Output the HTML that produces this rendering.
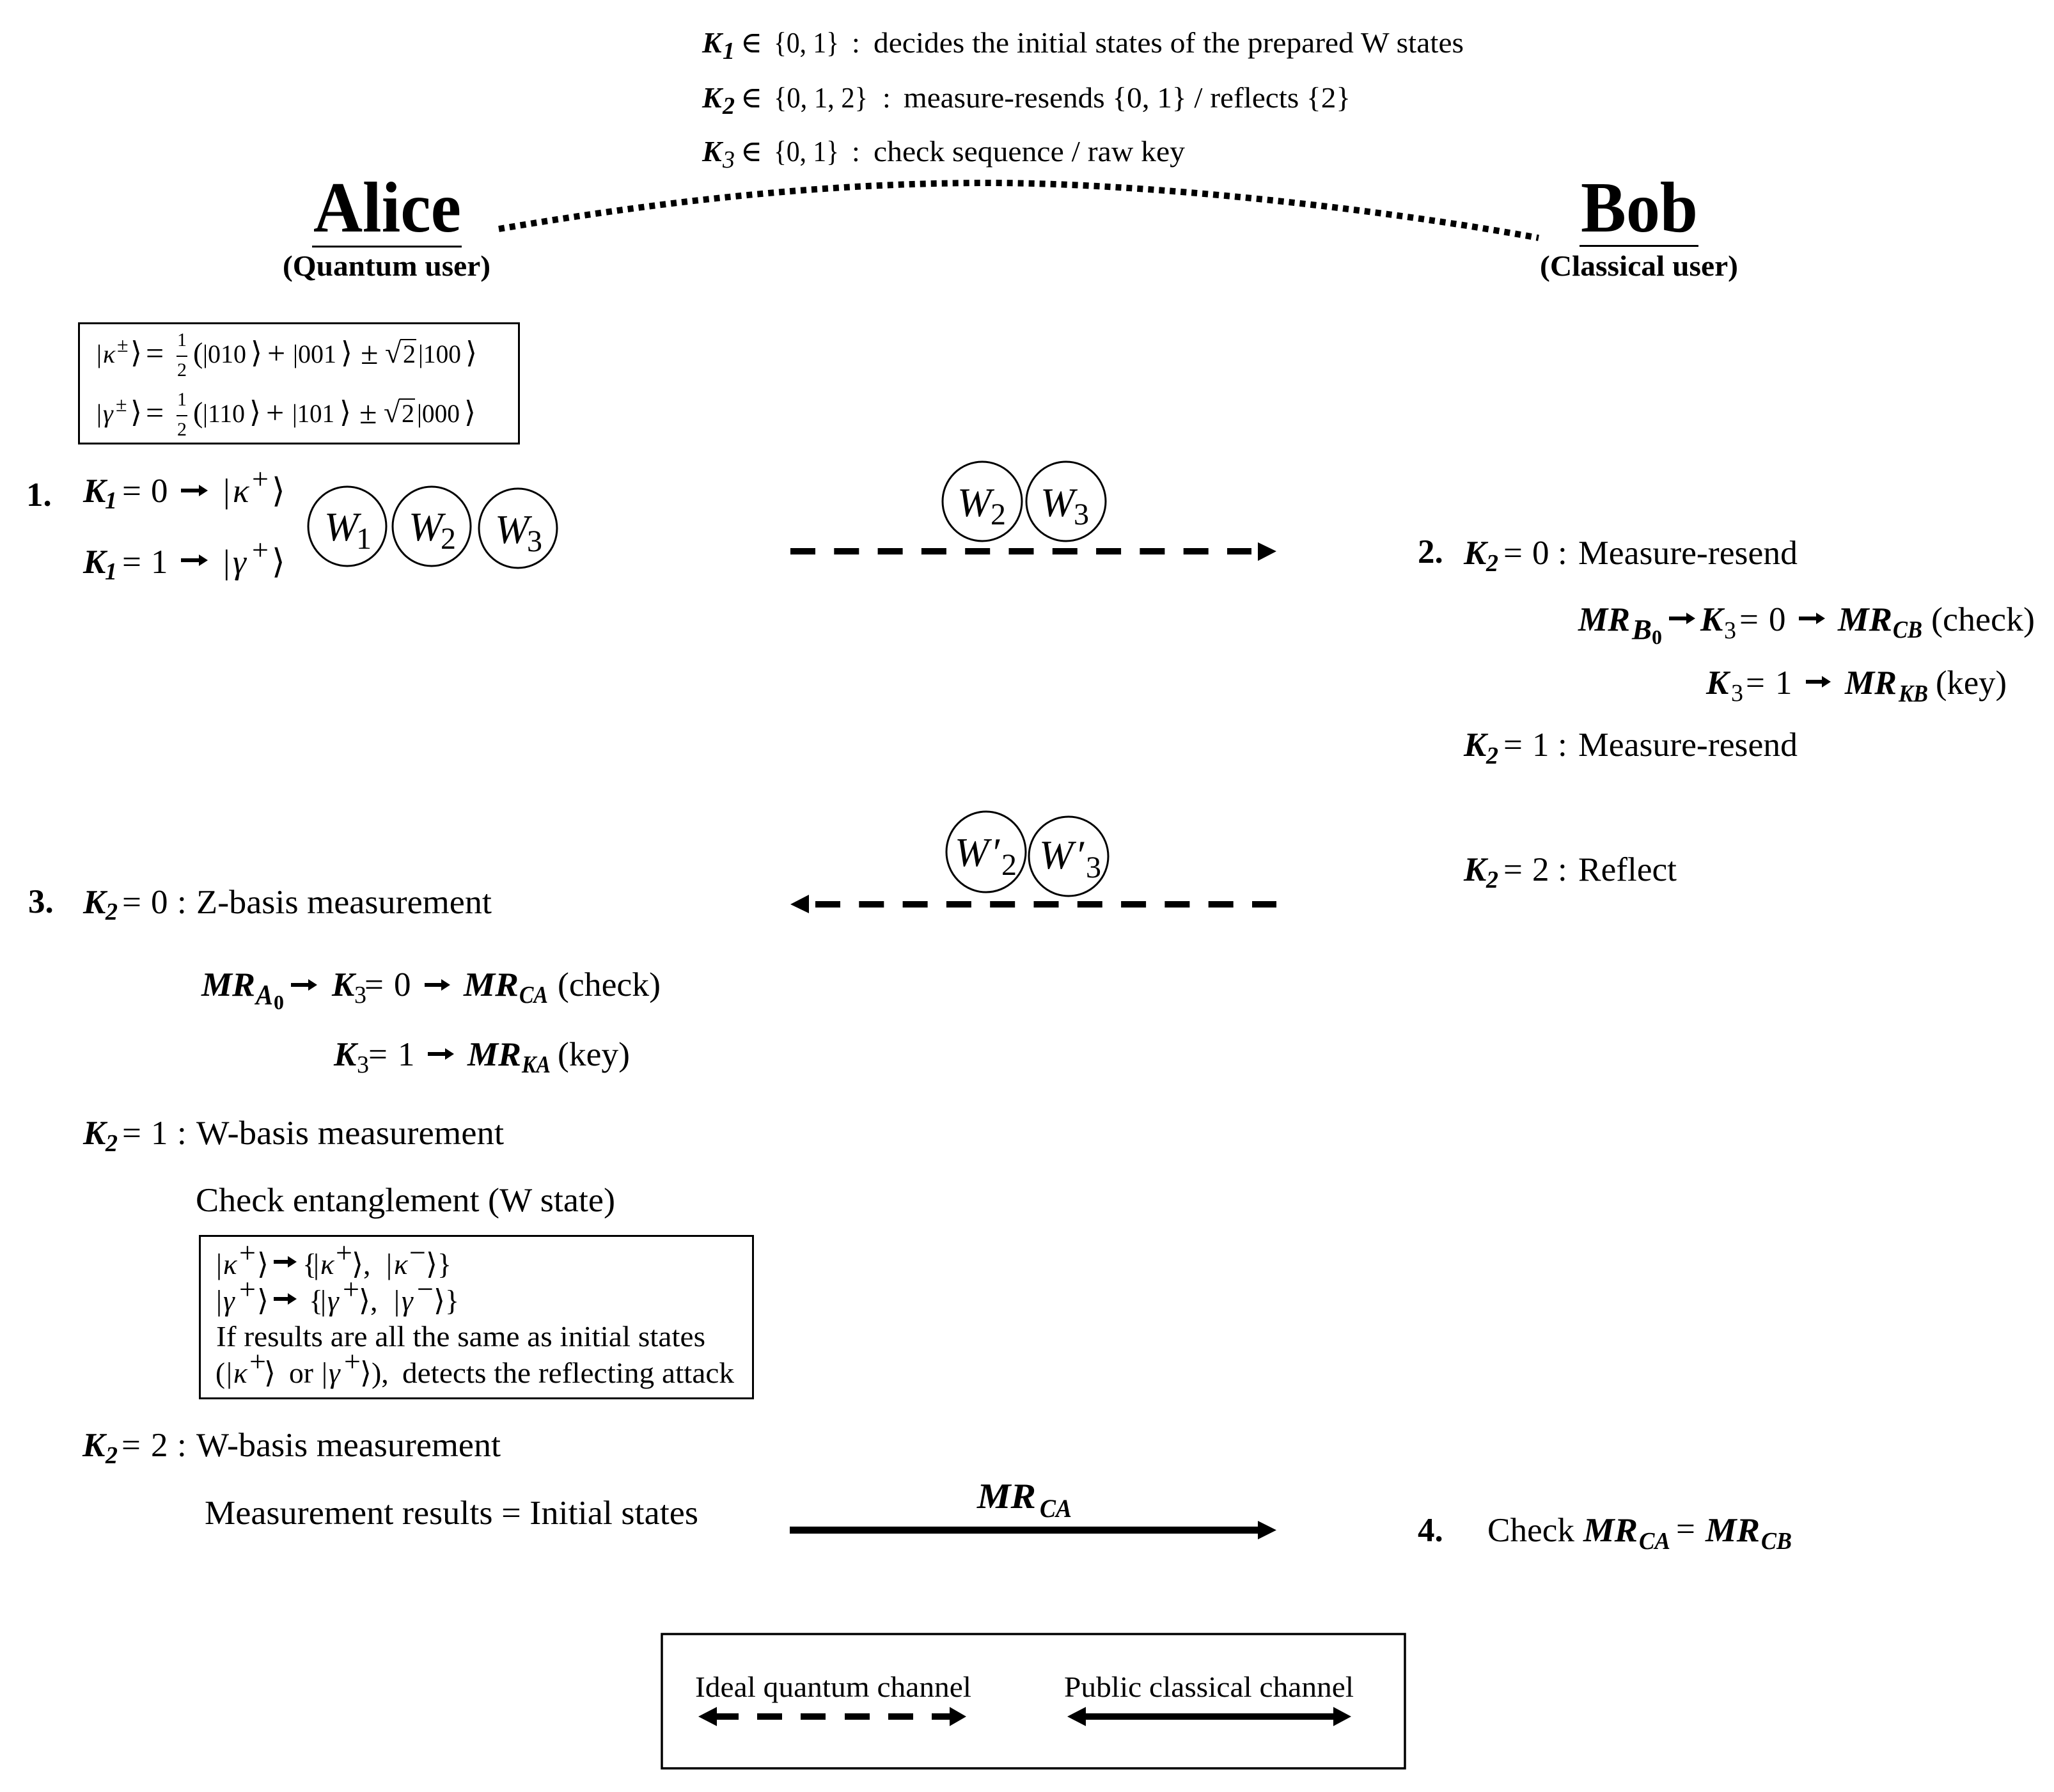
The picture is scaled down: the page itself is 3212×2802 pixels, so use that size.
<!DOCTYPE html>
<html><head><meta charset="utf-8"><style>
html,body{margin:0;padding:0;background:#fff}
svg{display:block}
text{font-family:"Liberation Serif","DejaVu Serif",serif;fill:#000}
.b{font-weight:bold}.i{font-style:italic}.bi{font-weight:bold;font-style:italic}
.m{font-size:46px}.l{font-size:53px}.s{font-size:38px}.h{font-size:40px}.p{font-size:50px}.c{font-size:45px}.w{font-size:64px;font-style:italic}.ws{font-size:48px}.q{font-size:46px}
.ss{font-size:44px}.z{font-size:32px}
</style></head><body>
<svg width="3212" height="2802" viewBox="0 0 3212 2802" xmlns="http://www.w3.org/2000/svg">
<rect width="3212" height="2802" fill="#fff"/>

<!-- top legend -->
<text class="bi m" x="1098" y="82">K</text><text class="bi s" x="1130" y="92">1</text>
<text class="m" x="1158" y="82">∈</text><text class="m" x="1210" y="82" textLength="102" lengthAdjust="spacingAndGlyphs">{0, 1}</text><text class="m" x="1332" y="82">:</text>
<text class="m" x="1366" y="82" textLength="923" lengthAdjust="spacingAndGlyphs">decides the initial states of the prepared W states</text>
<text class="bi m" x="1098" y="168">K</text><text class="bi s" x="1130" y="178">2</text>
<text class="m" x="1158" y="168">∈</text><text class="m" x="1210" y="168" textLength="147" lengthAdjust="spacingAndGlyphs">{0, 1, 2}</text><text class="m" x="1380" y="168">:</text>
<text class="m" x="1413" y="168" textLength="699" lengthAdjust="spacingAndGlyphs">measure-resends {0, 1} / reflects {2}</text>
<text class="bi m" x="1098" y="252">K</text><text class="i s" x="1130" y="262">3</text>
<text class="m" x="1158" y="252">∈</text><text class="m" x="1210" y="252" textLength="102" lengthAdjust="spacingAndGlyphs">{0, 1}</text><text class="m" x="1332" y="252">:</text>
<text class="m" x="1366" y="252" textLength="487" lengthAdjust="spacingAndGlyphs">check sequence / raw key</text>

<path d="M780 358 C1050 312 1300 286 1545 286 S2150 325 2406 372" fill="none" stroke="#000" stroke-width="10" stroke-dasharray="9 8"/>

<!-- Alice / Bob -->
<text class="b" x="490" y="362" font-size="112" textLength="231" lengthAdjust="spacingAndGlyphs">Alice</text>
<rect x="488" y="384" width="234" height="3"/>
<text class="b" x="442" y="431" font-size="46" textLength="325" lengthAdjust="spacingAndGlyphs">(Quantum user)</text>
<text class="b" x="2472" y="362" font-size="112" textLength="183" lengthAdjust="spacingAndGlyphs">Bob</text>
<rect x="2470" y="383" width="186" height="3"/>
<text class="b" x="2408" y="431" font-size="46" textLength="310" lengthAdjust="spacingAndGlyphs">(Classical user)</text>

<!-- state definition box -->
<rect x="123.500" y="505.500" width="688" height="188" fill="none" stroke="#000" stroke-width="3"/>
<text class="h" x="151" y="567">|</text><text class="h i" x="161" y="567">κ</text><text x="183" y="550" font-size="32">±</text><text class="q" x="204" y="567">⟩</text><text class="p" x="228" y="569">=</text>
<text x="277" y="541" font-size="30">1</text><rect x="276" y="556" width="17" height="2"/><text x="277" y="588" font-size="30">2</text>
<text class="q" x="302" y="567">(</text><text class="h" x="317" y="567" textLength="68" lengthAdjust="spacingAndGlyphs">|010</text><text class="q" x="392" y="567">⟩</text><text class="p" x="418" y="569">+</text><text class="h" x="458" y="567" textLength="68" lengthAdjust="spacingAndGlyphs">|001</text><text class="q" x="533" y="567">⟩</text><text class="p" x="564" y="569">±</text><text class="q" x="602" y="567">√</text><rect x="626" y="530" width="25" height="2"/><text class="h" x="630" y="567">2</text><text class="h" x="654" y="567" textLength="67" lengthAdjust="spacingAndGlyphs">|100</text><text class="q" x="728" y="567">⟩</text>

<text class="h" x="151" y="660">|</text><text class="h i" x="161" y="660">γ</text><text x="181" y="643" font-size="32">±</text><text class="q" x="204" y="660">⟩</text><text class="p" x="228" y="662">=</text>
<text x="277" y="634" font-size="30">1</text><rect x="276" y="649" width="17" height="2"/><text x="277" y="681" font-size="30">2</text>
<text class="q" x="302" y="660">(</text><text class="h" x="317" y="660" textLength="66" lengthAdjust="spacingAndGlyphs">|110</text><text class="q" x="390" y="660">⟩</text><text class="p" x="416" y="662">+</text><text class="h" x="457" y="660" textLength="66" lengthAdjust="spacingAndGlyphs">|101</text><text class="q" x="531" y="660">⟩</text><text class="p" x="562" y="662">±</text><text class="q" x="600" y="660">√</text><rect x="624" y="623" width="25" height="2"/><text class="h" x="628" y="660">2</text><text class="h" x="652" y="660" textLength="67" lengthAdjust="spacingAndGlyphs">|000</text><text class="q" x="726" y="660">⟩</text>

<!-- step 1 -->
<text class="b l" x="41" y="791">1.</text>
<text class="bi l" x="130" y="785">K</text><text class="bi s" x="164" y="795">1</text><text class="l" x="191" y="785">=</text><text class="l" x="236" y="785">0</text>
<path d="M283 764H311V758L325 767L311 776V770H283Z"/>
<text class="l" x="349" y="785">|</text><text class="l i" x="364" y="785">κ</text><text class="q" x="394" y="764">+</text><text class="l" x="425" y="785">⟩</text>
<text class="bi l" x="130" y="896">K</text><text class="bi s" x="164" y="906">1</text><text class="l" x="191" y="896">=</text><text class="l" x="236" y="896">1</text>
<path d="M283 873H311V867L325 876L311 885V879H283Z"/>
<text class="l" x="349" y="896">|</text><text class="l i" x="364" y="896">γ</text><text class="q" x="394" y="875">+</text><text class="l" x="425" y="896">⟩</text>

<g fill="none" stroke="#000" stroke-width="3">
<ellipse cx="543" cy="823" rx="61" ry="62"/><ellipse cx="675" cy="823" rx="61" ry="62"/><ellipse cx="810" cy="826" rx="61" ry="62"/>
<ellipse cx="1536" cy="784" rx="62" ry="62"/><ellipse cx="1667" cy="784" rx="62" ry="62"/>
<ellipse cx="1542" cy="1332" rx="62" ry="63"/><ellipse cx="1671" cy="1339" rx="62" ry="62"/>
</g>
<text class="w" x="507" y="845">W</text><text class="ws" x="557" y="858">1</text>
<text class="w" x="639" y="845">W</text><text class="ws" x="689" y="858">2</text>
<text class="w" x="774" y="849">W</text><text class="ws" x="824" y="862">3</text>
<text class="w" x="1497" y="807">W</text><text class="ws" x="1549" y="820">2</text>
<text class="w" x="1627" y="807">W</text><text class="ws" x="1679" y="820">3</text>
<text class="w" x="1493" y="1354">W</text><text class="w" x="1549" y="1354" font-style="normal">′</text><text class="ws" x="1566" y="1368">2</text>
<text class="w" x="1625" y="1358">W</text><text class="w" x="1681" y="1358" font-style="normal">′</text><text class="ws" x="1698" y="1372">3</text>

<!-- dashed arrows -->
<line x1="1236" y1="862" x2="1957" y2="862" stroke="#000" stroke-width="10" stroke-dasharray="39 29.300"/>
<polygon points="1967,848 1996,862 1967,877"/>
<line x1="1275" y1="1414" x2="1996" y2="1414" stroke="#000" stroke-width="10" stroke-dasharray="39 29.300"/>
<polygon points="1265,1399 1236,1414 1265,1428"/>

<!-- step 2 -->
<text class="b l" x="2217" y="880">2.</text>
<text class="bi l" x="2289" y="882">K</text><text class="bi s" x="2324" y="893">2</text><text class="l" x="2351" y="882">=</text><text class="l" x="2396" y="882">0</text><text class="l" x="2436" y="882">:</text>
<text class="l" x="2468" y="882" textLength="343" lengthAdjust="spacingAndGlyphs">Measure-resend</text>

<text class="bi l" x="2468" y="986" textLength="81" lengthAdjust="spacingAndGlyphs">MR</text><text class="bi ss" x="2552" y="999" textLength="31" lengthAdjust="spacingAndGlyphs">B</text><text class="b z" x="2583" y="1007">0</text>
<path d="M2610 964H2637V958L2651 967L2637 976V970H2610Z"/>
<text class="bi l" x="2659" y="986">K</text><text class="s" x="2696" y="998">3</text><text class="l" x="2720" y="986">=</text><text class="l" x="2766" y="986">0</text>
<path d="M2813 964H2840V958L2854 967L2840 976V970H2813Z"/>
<text class="bi l" x="2874" y="986" textLength="85" lengthAdjust="spacingAndGlyphs">MR</text><text class="bi s" x="2960" y="997" textLength="46" lengthAdjust="spacingAndGlyphs">CB</text>
<text class="l" x="3020" y="986" textLength="162" lengthAdjust="spacingAndGlyphs">(check)</text>

<text class="bi l" x="2668" y="1085">K</text><text class="s" x="2707" y="1096">3</text><text class="l" x="2730" y="1085">=</text><text class="l" x="2776" y="1085">1</text>
<path d="M2824 1063H2849V1057L2863 1066L2849 1075V1069H2824Z"/>
<text class="bi l" x="2885" y="1085" textLength="81" lengthAdjust="spacingAndGlyphs">MR</text><text class="bi s" x="2969" y="1097" textLength="46" lengthAdjust="spacingAndGlyphs">KB</text>
<text class="l" x="3027" y="1085" textLength="111" lengthAdjust="spacingAndGlyphs">(key)</text>

<text class="bi l" x="2289" y="1182">K</text><text class="bi s" x="2324" y="1194">2</text><text class="l" x="2351" y="1182">=</text><text class="l" x="2396" y="1182">1</text><text class="l" x="2436" y="1182">:</text>
<text class="l" x="2468" y="1182" textLength="343" lengthAdjust="spacingAndGlyphs">Measure-resend</text>

<text class="bi l" x="2289" y="1377">K</text><text class="bi s" x="2324" y="1388">2</text><text class="l" x="2351" y="1377">=</text><text class="l" x="2396" y="1377">2</text><text class="l" x="2436" y="1377">:</text>
<text class="l" x="2468" y="1377" textLength="154" lengthAdjust="spacingAndGlyphs">Reflect</text>

<!-- step 3 -->
<text class="b l" x="44" y="1427">3.</text>
<text class="bi l" x="130" y="1428">K</text><text class="bi s" x="165" y="1438">2</text><text class="l" x="191" y="1428">=</text><text class="l" x="236" y="1428">0</text><text class="l" x="277" y="1428">:</text>
<text class="l" x="307" y="1428" textLength="462" lengthAdjust="spacingAndGlyphs">Z-basis measurement</text>

<text class="bi l" x="315" y="1557" textLength="84" lengthAdjust="spacingAndGlyphs">MR</text><text class="bi ss" x="400" y="1570" textLength="27" lengthAdjust="spacingAndGlyphs">A</text><text class="b z" x="428" y="1578">0</text>
<path d="M455 1537H482V1531L496 1540L482 1549V1543H455Z"/>
<text class="bi l" x="519" y="1557">K</text><text class="s" x="554" y="1568">3</text><text class="l" x="570" y="1557">=</text><text class="l" x="616" y="1557">0</text>
<path d="M664 1537H690V1531L704 1540L690 1549V1543H664Z"/>
<text class="bi l" x="725" y="1557" textLength="86" lengthAdjust="spacingAndGlyphs">MR</text><text class="bi s" x="812" y="1568" textLength="45" lengthAdjust="spacingAndGlyphs">CA</text>
<text class="l" x="872" y="1557" textLength="161" lengthAdjust="spacingAndGlyphs">(check)</text>

<text class="bi l" x="522" y="1666">K</text><text class="s" x="558" y="1677">3</text><text class="l" x="576" y="1666">=</text><text class="l" x="622" y="1666">1</text>
<path d="M669 1645H696V1639L710 1648L696 1657V1651H669Z"/>
<text class="bi l" x="731" y="1666" textLength="84" lengthAdjust="spacingAndGlyphs">MR</text><text class="bi s" x="816" y="1677" textLength="45" lengthAdjust="spacingAndGlyphs">KA</text>
<text class="l" x="872" y="1666" textLength="113" lengthAdjust="spacingAndGlyphs">(key)</text>

<text class="bi l" x="130" y="1789">K</text><text class="bi s" x="165" y="1800">2</text><text class="l" x="191" y="1789">=</text><text class="l" x="236" y="1789">1</text><text class="l" x="277" y="1789">:</text>
<text class="l" x="307" y="1789" textLength="481" lengthAdjust="spacingAndGlyphs">W-basis measurement</text>
<text class="l" x="306" y="1894" textLength="656" lengthAdjust="spacingAndGlyphs">Check entanglement (W state)</text>

<rect x="312.500" y="1932.500" width="865" height="254" fill="none" stroke="#000" stroke-width="3"/>
<text class="c" x="338" y="1992">|</text><text class="c i" x="349" y="1992">κ</text><text class="q" x="374" y="1974">+</text><text class="q" x="402" y="1992">⟩</text>
<path d="M428 1970H450V1964L464 1973L450 1982V1976H428Z"/>
<text class="q" x="473" y="1992">{</text><text class="c" x="490" y="1992">|</text><text class="c i" x="501" y="1992">κ</text><text class="q" x="525" y="1974">+</text><text class="q" x="550" y="1992">⟩,</text>
<text class="c" x="604" y="1992">|</text><text class="c i" x="616" y="1992">κ</text><text class="q" x="640" y="1974">−</text><text class="q" x="666" y="1992">⟩}</text>

<text class="c" x="338" y="2049">|</text><text class="c i" x="349" y="2049">γ</text><text class="q" x="374" y="2031">+</text><text class="q" x="402" y="2049">⟩</text>
<path d="M428 2028H450V2022L464 2031L450 2040V2034H428Z"/>
<text class="q" x="483" y="2049">{</text><text class="c" x="501" y="2049">|</text><text class="c i" x="512" y="2049">γ</text><text class="q" x="536" y="2031">+</text><text class="q" x="561" y="2049">⟩,</text>
<text class="c" x="616" y="2049">|</text><text class="c i" x="628" y="2049">γ</text><text class="q" x="652" y="2031">−</text><text class="q" x="678" y="2049">⟩}</text>

<text class="c" x="338" y="2105" textLength="765" lengthAdjust="spacingAndGlyphs">If results are all the same as initial states</text>

<text class="c" x="337" y="2162">(</text><text class="c" x="354" y="2162">|</text><text class="c i" x="365" y="2162">κ</text><text class="q" x="390" y="2144">+</text><text class="q" x="413" y="2162">⟩</text>
<text class="c" x="452" y="2162" textLength="38" lengthAdjust="spacingAndGlyphs">or</text>
<text class="c" x="503" y="2162">|</text><text class="c i" x="514" y="2162">γ</text><text class="q" x="538" y="2144">+</text><text class="q" x="563" y="2162">⟩),</text>
<text class="c" x="629" y="2162" textLength="519" lengthAdjust="spacingAndGlyphs">detects the reflecting attack</text>

<text class="bi l" x="129" y="2277">K</text><text class="bi s" x="165" y="2288">2</text><text class="l" x="190" y="2277">=</text><text class="l" x="236" y="2277">2</text><text class="l" x="277" y="2277">:</text>
<text class="l" x="307" y="2277" textLength="476" lengthAdjust="spacingAndGlyphs">W-basis measurement</text>
<text class="l" x="320" y="2383" textLength="772" lengthAdjust="spacingAndGlyphs">Measurement results = Initial states</text>

<!-- MR_CA arrow -->
<text class="bi" x="1528" y="2358" font-size="56" textLength="92" lengthAdjust="spacingAndGlyphs">MR</text><text class="bi" x="1626" y="2372" font-size="40" textLength="50" lengthAdjust="spacingAndGlyphs">CA</text>
<rect x="1235" y="2387" width="735" height="11"/>
<polygon points="1967,2378 1996,2392.500 1967,2407"/>

<!-- step 4 -->
<text class="b l" x="2217" y="2410">4.</text>
<text class="l" x="2326" y="2410" textLength="136" lengthAdjust="spacingAndGlyphs">Check</text>
<text class="bi l" x="2476" y="2410" textLength="85" lengthAdjust="spacingAndGlyphs">MR</text><text class="bi s" x="2563" y="2422" textLength="49" lengthAdjust="spacingAndGlyphs">CA</text>
<text class="l" x="2621" y="2408">=</text>
<text class="bi l" x="2667" y="2410" textLength="85" lengthAdjust="spacingAndGlyphs">MR</text><text class="bi s" x="2754" y="2422" textLength="48" lengthAdjust="spacingAndGlyphs">CB</text>

<!-- legend -->
<rect x="1035" y="2555" width="1162" height="210" fill="none" stroke="#000" stroke-width="3.500"/>
<text class="m" x="1087" y="2653" textLength="432" lengthAdjust="spacingAndGlyphs">Ideal quantum channel</text>
<text class="m" x="1664" y="2653" textLength="453" lengthAdjust="spacingAndGlyphs">Public classical channel</text>
<polygon points="1092,2684 1121,2669 1121,2699"/><rect x="1121" y="2679" width="34" height="10"/>
<rect x="1184" y="2679" width="39" height="10"/><rect x="1252" y="2679" width="39" height="10"/><rect x="1321" y="2679" width="39" height="10"/><rect x="1389" y="2679" width="39" height="10"/>
<rect x="1457" y="2679" width="28" height="10"/><polygon points="1511,2684 1485,2669 1485,2699"/>
<polygon points="1669,2684 1698,2669 1698,2699"/><rect x="1698" y="2679" width="387" height="10"/><polygon points="2113,2684 2085,2669 2085,2699"/>
</svg>
</body></html>
